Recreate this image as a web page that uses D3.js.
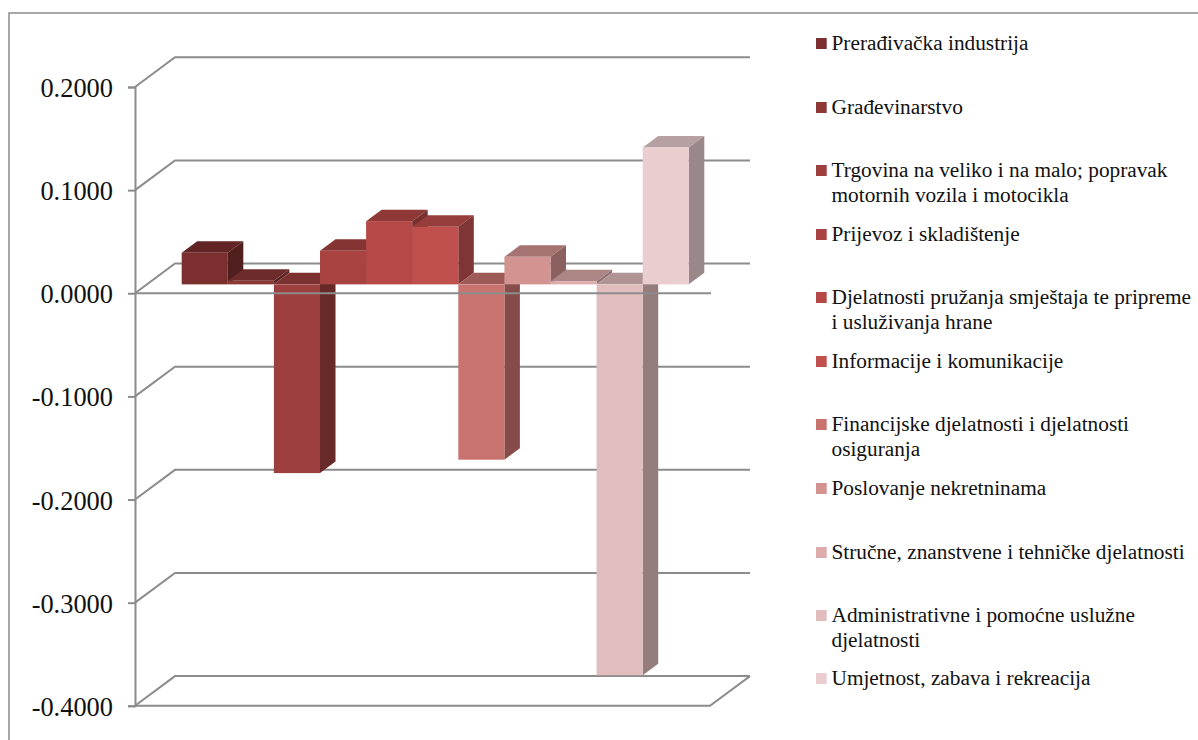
<!DOCTYPE html>
<html>
<head>
<meta charset="utf-8">
<script src="https://cdn.jsdelivr.net/npm/d3@7"></script>
<style>
  html, body { margin: 0; padding: 0; background: #fff; overflow: hidden; }
  svg { display: block; }
  text { font-family: "Liberation Serif", serif; fill: #111; }
</style>
</head>
<body>
<svg width="1198" height="740"></svg>
<script>
const categories = [
    ["Prerađivačka industrija"],
    ["Građevinarstvo"],
    ["Trgovina na veliko i na malo; popravak", "motornih vozila i motocikla"],
    ["Prijevoz i skladištenje"],
    ["Djelatnosti pružanja smještaja te pripreme", "i usluživanja hrane"],
    ["Informacije i komunikacije"],
    ["Financijske djelatnosti i djelatnosti", "osiguranja"],
    ["Poslovanje nekretninama"],
    ["Stručne, znanstvene i tehničke djelatnosti"],
    ["Administrativne i pomoćne uslužne", "djelatnosti"],
    ["Umjetnost, zabava i rekreacija"]
];
const values = [0.0306, 0.0035, -0.183, 0.0325, 0.0613, 0.0558, -0.170, 0.0267, 0.0030, -0.379, 0.1327];
const colors = ["#7b2f2e", "#8c3837", "#9c3f3e", "#a94341", "#b64947", "#c0504d", "#c9736f", "#d39391", "#dcabaa", "#e1bdbd", "#e9cdcf"];
const yTicks = [0.2, 0.1, 0, -0.1, -0.2, -0.3, -0.4];
const legendY = [43, 107, 170, 234, 297, 361, 424, 488, 552, 615, 678];

const svg = d3.select("svg");
const grey = "#8c8c8c";

// 3d offsets of the chart box and of a bar
const wallDx = 40, wallDy = -29.7;
const barDx = 15.5, barDy = -11.5;
const frontLeft = 135, frontRight = 710;
const zeroShiftY = -8.9;  // bars stand a bit behind the front edge

const x = d3.scaleBand().domain(d3.range(values.length)).range([181.7, 688.8]);
const y = d3.scaleLinear().domain([-0.4, 0.2]).range([705.8, 87]);

svg.append("rect")
    .attr("x", 9).attr("y", 13)
    .attr("width", 1300).attr("height", 900)
    .attr("fill", "none").attr("stroke", grey).attr("stroke-width", 1.5);

// back wall lines and the diagonals on the side wall
const grid = svg.append("g").attr("fill", "none").attr("stroke", grey).attr("stroke-width", 2);
yTicks.forEach(t => {
    grid.append("polyline")
        .attr("points", [
            [frontLeft, y(t)],
            [frontLeft + wallDx, y(t) + wallDy],
            [frontRight + wallDx, y(t) + wallDy]
        ].join(" "));
});
// right edge of the floor and front edge
grid.append("polyline")
    .attr("points", [
        [frontLeft, y(-0.4)],
        [frontRight, y(-0.4)],
        [frontRight + wallDx, y(-0.4) + wallDy]
    ].join(" "));

// bars, left to right
const bars = svg.append("g");
const bw = x.bandwidth();
const base = y(0) + zeroShiftY;
const yb = v => y(v) + zeroShiftY;

values.forEach((v, i) => {
    const left = x(i), right = left + bw;
    const top = Math.min(yb(v), base), bottom = Math.max(yb(v), base);
    const c = d3.color(colors[i]);
    // top
    bars.append("polygon")
        .attr("points", [[left, top], [left + barDx, top + barDy], [right + barDx, top + barDy], [right, top]].join(" "))
        .attr("fill", d3.rgb(c.r * 0.78, c.g * 0.78, c.b * 0.78));
    // side
    bars.append("polygon")
        .attr("points", [[right, top], [right + barDx, top + barDy], [right + barDx, bottom + barDy], [right, bottom]].join(" "))
        .attr("fill", d3.rgb(c.r * 0.66, c.g * 0.66, c.b * 0.66));
    // front
    bars.append("rect")
        .attr("x", left).attr("y", top)
        .attr("width", bw).attr("height", bottom - top)
        .attr("fill", c);
});

// zero line runs over the bars
svg.append("line")
    .attr("x1", frontLeft).attr("x2", frontRight + 1)
    .attr("y1", y(0)).attr("y2", y(0))
    .attr("stroke", grey).attr("stroke-width", 2);

// y axis, plain hyphen as in the original labels
const fmt = d3.format(".4f");
const yAxis = d3.axisLeft(y)
    .tickValues(yTicks)
    .tickFormat(d => fmt(d).replace("\u2212", "-"))
    .tickSize(7)
    .tickPadding(15);
const axisG = svg.append("g")
    .attr("transform", "translate(" + frontLeft + ",0)")
    .call(yAxis);
axisG.selectAll("line, path").attr("stroke", grey).attr("stroke-width", 2);
axisG.selectAll("text")
    .attr("font-size", 26.4)
    .attr("font-family", '"Liberation Serif", serif')
    .attr("fill", "#111")
    .attr("dy", "0.36em");

// legend
const legend = svg.append("g");
categories.forEach((lines, i) => {
    const ly = legendY[i];
    legend.append("rect")
        .attr("x", 816).attr("y", ly - 5)
        .attr("width", 10.7).attr("height", 11)
        .attr("fill", colors[i]);
    lines.forEach((s, k) => {
        legend.append("text")
            .attr("x", 831.5).attr("y", ly + 6.7 + k * 25)
            .attr("font-size", 21.3)
            .text(s);
    });
});
</script>
</body>
</html>
